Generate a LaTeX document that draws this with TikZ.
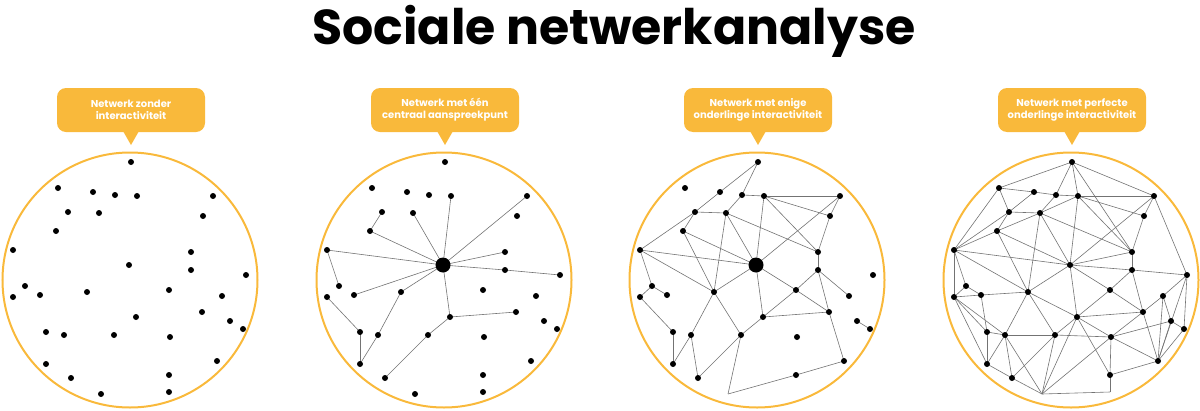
\documentclass[tikz,border=0pt]{standalone}
\usepackage{fontspec}
\setmainfont{Poppins}
\definecolor{org}{HTML}{F9B93B}
\begin{document}
\begin{tikzpicture}[x=1pt,y=-1pt,
  edge/.style={draw=black!55,line width=0.6pt},
  dot/.style={fill=black},
  ring/.style={draw=org,line width=2pt},
  bubble/.style={fill=org,rounded corners=9pt},
  btext/.style={text=white,font=\bfseries\fontsize{10}{12}\selectfont,align=center}]
\useasboundingbox (0,0) rectangle (1200,410);
\node[font=\bfseries\fontsize{49}{52}\selectfont] (title) at (614,31) {Sociale netwerkanalyse};
\foreach \c/\ox in {a/0,b/314,c/627,d/941}{
  \foreach \i/\x/\y in {1/131/162,2/58/188,3/93/192,4/115/195,5/137/196,6/213/196,7/68/212,8/99/213,9/203/216,10/56/231,11/13/250,12/191/252,13/129/265,14/191/270,15/246/275,16/25/286,17/13/297,18/40/295,19/87/292,20/169/290,21/222/296,22/202/312,23/136/317,24/230/321,25/243/329,26/46/332,27/64/335,28/114/335,29/170/337,30/46/364,31/217/361,32/71/378,33/169/375,34/101/394,35/169/392}
    \coordinate (\c\i) at (\ox+\x,\y);
  \coordinate (\c ctr) at (\ox+130,280);
  \draw[ring] (\c ctr) circle (127.5);
  \fill[bubble] (\ox+57,88) rectangle (\ox+205,132);
  \fill[org] (\ox+123,131) -- (\ox+139,131) -- (\ox+131,145) -- cycle;
}
\node[btext] (ta) at (131,110) {Netwerk zonder\\interactiviteit};
\node[btext] (tb) at (445,110) {Netwerk met één\\centraal aanspreekpunt};
\node[btext] (tc) at (758,110) {Netwerk met enige\\onderlinge interactiviteit};
\node[btext] (td) at (1072,110) {Netwerk met perfecte\\onderlinge interactiviteit};
% circle 2
\foreach \p/\q in {13/5,13/6,13/8,7/10,10/13,11/13,11/16,18/13,19/13,19/27,27/30,30/26,26/17,12/13,13/14,14/15,13/23,23/22,23/28,28/32}
  \draw[edge] (b\p) -- (b\q);
% circle 3
\foreach \p/\q in {1/3,1/4,3/7,4/8,4/5,5/6,7/8,7/10,7/11,8/13,8/19,8/12,5/13,5/12,5/9,6/9,6/13,9/12,10/13,10/19,11/13,11/19,11/16,16/17,16/18,17/26,26/30,30/27,27/19,27/32,19/13,19/28,32/28,28/23,28/34,23/13,23/20,23/22,13/20,20/14,20/22,12/14,14/21,14/22,22/31,31/33,33/34,24/25}
  \draw[edge] (c\p) -- (c\q);
% circle 4
\foreach \p/\q in {1/2,1/4,1/5,1/12,1/6,2/3,3/4,4/5,5/6,2/7,2/11,3/7,7/8,7/10,7/11,4/8,5/8,5/13,5/12,5/9,6/9,6/15,6/13,8/10,8/12,8/19,8/13,9/12,10/11,10/13,10/19,11/13,11/19,11/16,11/17,12/13,12/14,13/14,14/15,13/19,13/20,13/23,14/20,14/22,16/17,16/18,17/18,17/26,17/27,17/30,18/19,18/26,19/27,19/23,19/28,20/23,20/22,21/15,21/22,21/24,21/31,15/31,15/25,22/23,22/31,22/29,23/28,23/29,23/33,23/34,24/25,24/29,24/31,25/31,26/30,26/27,27/28,27/30,27/32,27/34,28/29,28/32,28/34,29/31,29/33,29/34,30/32,32/34,34/35,35/33,33/31}
  \draw[edge] (d\p) -- (d\q);
% dots
\foreach \c in {a,b}{\foreach \i in {1,...,35}{\fill[dot] (\c\i) circle (3);}}
\foreach \c in {c,d}{\foreach \i in {1,...,33}{\fill[dot] (\c\i) circle (3);}}
\fill[dot] (b13) circle (7.5);
\fill[dot] (c13) circle (7.5);
\end{tikzpicture}
\end{document}
